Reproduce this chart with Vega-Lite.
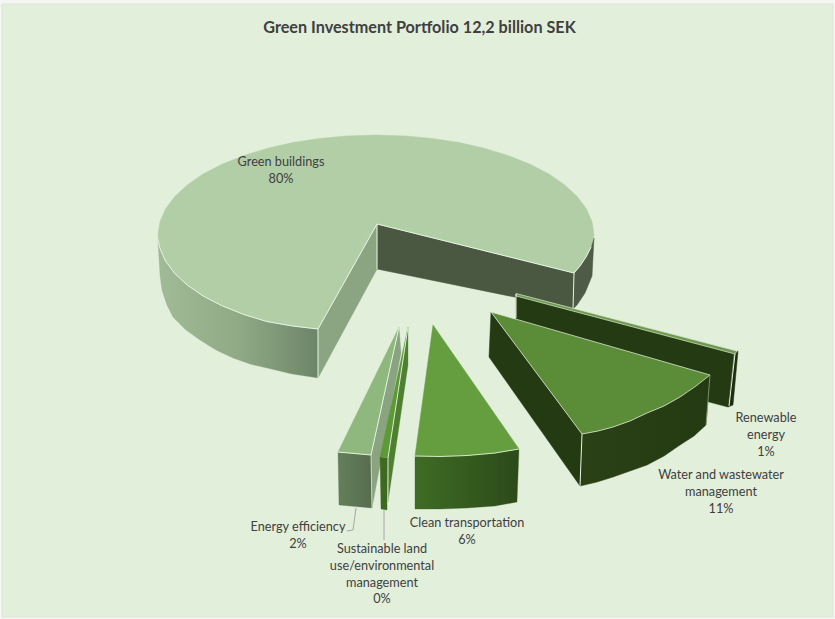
{
"$schema":"https://vega.github.io/schema/vega-lite/v6.json",
"width":835,"height":619,
"autosize":{"type":"fit","contains":"padding"},
"padding":0,
"background":"#f4f6f2",
"config":{"view":{"stroke":null}},
"encoding":{
"x":{"field":"x","type":"quantitative","scale":{"domain":[0,835],"nice":false,"zero":false},"axis":null},
"y":{"field":"y","type":"quantitative","scale":{"domain":[619,0],"nice":false,"zero":false},"axis":null},
"order":{"value":null}
},
"layer":[
{"data":{"values":[{"x":2,"y":4,"x1":833,"y1":617}]},"mark":{"type":"rect","fill":"#E2EFDB","stroke":"#dfe3dc","strokeWidth":1},"encoding":{"x2":{"field":"x1"},"y2":{"field":"y1"},"order":null}},
{"data":{"values":[{"x":377,"y":224},{"x":574,"y":273},{"x":573,"y":309},{"x":377,"y":269}]},"mark":{"type":"line","interpolate":"linear-closed","fill":"#4A5842","stroke":"#4A5842","strokeWidth":0.5}},
{"data":{"values":[{"x":574,"y":273},{"x":580,"y":266},{"x":586.6,"y":256},{"x":594,"y":238},{"x":592,"y":276},{"x":585,"y":293},{"x":577,"y":305},{"x":573,"y":309}]},"mark":{"type":"line","interpolate":"linear-closed","fill":"#4E5B47","stroke":"#4E5B47","strokeWidth":0.5}},
{"data":{"values":[{"x":377,"y":224},{"x":318,"y":329},{"x":318,"y":378},{"x":377,"y":269}]},"mark":{"type":"line","interpolate":"linear-closed","fill":"#8BA582","stroke":"#8BA582","strokeWidth":0.5}},
{"data":{"values":[{"x":158,"y":240},{"x":159.9,"y":248},{"x":165.4,"y":260.9},{"x":174.6,"y":273.3},{"x":187.2,"y":285},{"x":203,"y":295.9},{"x":221.9,"y":305.7},{"x":243.3,"y":314.3},{"x":267,"y":321.6},{"x":292.6,"y":326},{"x":318,"y":329},{"x":318,"y":378},{"x":292,"y":374},{"x":267,"y":368},{"x":250,"y":364},{"x":233,"y":358},{"x":216,"y":350},{"x":200,"y":340},{"x":186,"y":330},{"x":173,"y":317},{"x":167,"y":305},{"x":162,"y":290},{"x":160,"y":275}]},"mark":{"type":"line","interpolate":"linear-closed","stroke":"#8BA582","strokeWidth":0.3,"fill":{"gradient":"linear","x1":0,"y1":0,"x2":1,"y2":0,"stops":[{"offset":0,"color":"#A2BB97"},{"offset":0.5,"color":"#90AA86"},{"offset":1,"color":"#6D8567"}]}}},
{"data":{"values":[{"x":377,"y":224},{"x":574,"y":273},{"x":580,"y":266},{"x":586.6,"y":256},{"x":591,"y":247},{"x":594,"y":235},{"x":592.1,"y":222},{"x":586.6,"y":209.1},{"x":577.4,"y":196.7},{"x":564.8,"y":185},{"x":549,"y":174.1},{"x":530.1,"y":164.3},{"x":508.7,"y":155.7},{"x":485,"y":148.4},{"x":459.4,"y":142.6},{"x":432.4,"y":138.4},{"x":404.5,"y":135.9},{"x":376,"y":135},{"x":347.5,"y":135.9},{"x":319.6,"y":138.4},{"x":292.6,"y":142.6},{"x":267,"y":148.4},{"x":243.3,"y":155.7},{"x":221.9,"y":164.3},{"x":203,"y":174.1},{"x":187.2,"y":185},{"x":174.6,"y":196.7},{"x":165.4,"y":209.1},{"x":159.9,"y":222},{"x":158,"y":235},{"x":159.9,"y":248},{"x":165.4,"y":260.9},{"x":174.6,"y":273.3},{"x":187.2,"y":285},{"x":203,"y":295.9},{"x":221.9,"y":305.7},{"x":243.3,"y":314.3},{"x":267,"y":321.6},{"x":292.6,"y":326},{"x":318,"y":329}]},"mark":{"type":"line","interpolate":"linear-closed","fill":"#B1CEA7","stroke":"#B1CEA7","strokeWidth":0.5}},
{"data":{"values":[{"x":158,"y":240},{"x":159.9,"y":248},{"x":165.4,"y":260.9},{"x":174.6,"y":273.3},{"x":187.2,"y":285},{"x":203,"y":295.9},{"x":221.9,"y":305.7},{"x":243.3,"y":314.3},{"x":267,"y":321.6},{"x":292.6,"y":326},{"x":318,"y":329},{"x":377,"y":224},{"x":574,"y":273},{"x":580,"y":266},{"x":586.6,"y":256},{"x":591,"y":247}]},"mark":{"type":"line","stroke":"#E8F2E2","strokeWidth":1}},
{"data":{"values":[{"x":318,"y":329},{"x":318,"y":378}]},"mark":{"type":"line","stroke":"#E8F2E2","strokeWidth":1}},
{"data":{"values":[{"x":377,"y":224},{"x":377,"y":269}]},"mark":{"type":"line","stroke":"#E8F2E2","strokeWidth":1}},
{"data":{"values":[{"x":574,"y":273},{"x":573,"y":309}]},"mark":{"type":"line","stroke":"#E8F2E2","strokeWidth":1}},

{"data":{"values":[{"x":516,"y":295},{"x":734,"y":353},{"x":728,"y":407},{"x":516,"y":351}]},"mark":{"type":"line","interpolate":"linear-closed","fill":"#233A12","stroke":"#233A12","strokeWidth":0.5}},
{"data":{"values":[{"x":735,"y":353},{"x":738,"y":351},{"x":733,"y":405},{"x":728,"y":407}]},"mark":{"type":"line","interpolate":"linear-closed","fill":"#1C2E0E","stroke":"#1C2E0E","strokeWidth":0.5}},
{"data":{"values":[{"x":516,"y":293.5},{"x":737,"y":351},{"x":735,"y":354},{"x":516,"y":296}]},"mark":{"type":"line","interpolate":"linear-closed","fill":"#6E9A50","stroke":"#DCE8D2","strokeWidth":0.7}},
{"data":{"values":[{"x":516,"y":294},{"x":516,"y":318}]},"mark":{"type":"line","stroke":"#E8F2E2","strokeWidth":1}},
{"data":{"values":[{"x":735,"y":354},{"x":729,"y":406}]},"mark":{"type":"line","stroke":"#E8F2E2","strokeWidth":1}},

{"data":{"values":[{"x":491,"y":312},{"x":582,"y":434},{"x":580,"y":486},{"x":489,"y":357}]},"mark":{"type":"line","interpolate":"linear-closed","fill":"#243A12","stroke":"#243A12","strokeWidth":0.5}},
{"data":{"values":[{"x":582,"y":434},{"x":598,"y":431},{"x":613,"y":427},{"x":630,"y":421},{"x":647,"y":413},{"x":664,"y":406},{"x":680,"y":397},{"x":696,"y":386},{"x":710,"y":375},{"x":706,"y":425},{"x":694,"y":436},{"x":680,"y":445},{"x":664,"y":456},{"x":647,"y":465},{"x":630,"y":471},{"x":613,"y":477},{"x":597,"y":482},{"x":580,"y":486}]},"mark":{"type":"line","interpolate":"linear-closed","stroke":"#273D14","strokeWidth":0.5,"fill":{"gradient":"linear","x1":0,"y1":0,"x2":1,"y2":0,"stops":[{"offset":0,"color":"#2A4116"},{"offset":1,"color":"#243A12"}]}}},
{"data":{"values":[{"x":491,"y":312},{"x":710,"y":375},{"x":696,"y":386},{"x":680,"y":397},{"x":664,"y":406},{"x":647,"y":413},{"x":630,"y":421},{"x":613,"y":427},{"x":598,"y":431},{"x":582,"y":434}]},"mark":{"type":"line","interpolate":"linear-closed","fill":"#5B8C38","stroke":"#DCE8D2","strokeWidth":0.8}},
{"data":{"values":[{"x":582,"y":434},{"x":580,"y":486}]},"mark":{"type":"line","stroke":"#E8F2E2","strokeWidth":1}},
{"data":{"values":[{"x":710,"y":375},{"x":706,"y":425}]},"mark":{"type":"line","stroke":"#8CA580","strokeWidth":0.8}},

{"data":{"values":[{"x":415,"y":456},{"x":467,"y":455},{"x":495,"y":453},{"x":519,"y":449},{"x":517,"y":502},{"x":495,"y":506},{"x":467,"y":508},{"x":440,"y":509},{"x":415,"y":509}]},"mark":{"type":"line","interpolate":"linear-closed","stroke":"#375C1F","strokeWidth":0.3,"fill":{"gradient":"linear","x1":0,"y1":0,"x2":1,"y2":0,"stops":[{"offset":0,"color":"#3F6C24"},{"offset":1,"color":"#2C4A1A"}]}}},
{"data":{"values":[{"x":433,"y":325},{"x":519,"y":449},{"x":495,"y":453},{"x":467,"y":455.5},{"x":440,"y":456.5},{"x":415,"y":456}]},"mark":{"type":"line","interpolate":"linear-closed","fill":"#659E3F","stroke":"#659E3F","strokeWidth":0.5}},
{"data":{"values":[{"x":415,"y":456},{"x":440,"y":456.5},{"x":467,"y":455.5},{"x":495,"y":453},{"x":519,"y":449}]},"mark":{"type":"line","stroke":"#D5E6C8","strokeWidth":1}},

{"data":{"values":[{"x":338,"y":452},{"x":371,"y":455},{"x":372,"y":508},{"x":339,"y":505}]},"mark":{"type":"line","interpolate":"linear-closed","stroke":"#5B7451","strokeWidth":0.3,"fill":{"gradient":"linear","x1":0,"y1":0,"x2":1,"y2":0,"stops":[{"offset":0,"color":"#647F5A"},{"offset":1,"color":"#566D4D"}]}}},
{"data":{"values":[{"x":399,"y":327},{"x":401,"y":353},{"x":372,"y":508},{"x":371,"y":455}]},"mark":{"type":"line","interpolate":"linear-closed","fill":"#8AA381","stroke":"#8AA381","strokeWidth":0.3}},
{"data":{"values":[{"x":399,"y":327},{"x":371,"y":455},{"x":338,"y":452}]},"mark":{"type":"line","interpolate":"linear-closed","fill":"#8EB87E","stroke":"#8EB87E","strokeWidth":0.3}},
{"data":{"values":[{"x":338,"y":452},{"x":371,"y":455},{"x":399,"y":327}]},"mark":{"type":"line","stroke":"#E8F2E2","strokeWidth":1}},
{"data":{"values":[{"x":371,"y":455},{"x":372,"y":508}]},"mark":{"type":"line","stroke":"#D5E6C8","strokeWidth":0.8}},

{"data":{"values":[{"x":408,"y":327},{"x":408,"y":365},{"x":388,"y":502},{"x":388,"y":458}]},"mark":{"type":"line","interpolate":"linear-closed","fill":"#4F8030","stroke":"#4F8030","strokeWidth":0.3}},
{"data":{"values":[{"x":380,"y":457},{"x":388,"y":458},{"x":387,"y":510},{"x":381,"y":509}]},"mark":{"type":"line","interpolate":"linear-closed","fill":"#3D6A20","stroke":"#3D6A20","strokeWidth":0.3}},
{"data":{"values":[{"x":408,"y":327},{"x":388,"y":458},{"x":380,"y":457}]},"mark":{"type":"line","interpolate":"linear-closed","fill":"#5B9A35","stroke":"#5B9A35","strokeWidth":0.3}},
{"data":{"values":[{"x":408,"y":327},{"x":388,"y":458},{"x":388,"y":505}]},"mark":{"type":"line","stroke":"#E8F2E2","strokeWidth":0.9}},

{"data":{"values":[{"x":356,"y":508},{"x":353,"y":530},{"x":347,"y":531}]},"mark":{"type":"line","stroke":"#A6A6A6","strokeWidth":1}},
{"data":{"values":[{"x":384,"y":510},{"x":384,"y":540}]},"mark":{"type":"line","stroke":"#A6A6A6","strokeWidth":1}},

{"data":{"values":[
{"x":281,"y":156,"label":"Green buildings\n80%"},
{"x":766,"y":412,"label":"Renewable\nenergy\n1%"},
{"x":721,"y":469,"label":"Water and wastewater\nmanagement\n11%"},
{"x":467,"y":517,"label":"Clean transportation\n6%"},
{"x":298,"y":521,"label":"Energy efficiency\n2%"},
{"x":382,"y":543,"label":"Sustainable land\nuse/environmental\nmanagement\n0%"}
]},"mark":{"type":"text","font":"Lato","fontSize":12.7,"color":"#404040","align":"center","baseline":"top","lineBreak":"\n","lineHeight":16.8},"encoding":{"text":{"field":"label"},"order":null}},
{"data":{"values":[{"x":419.5,"y":27.5,"label":"Green Investment Portfolio 12,2 billion SEK"}]},"mark":{"type":"text","font":"Lato","fontSize":16.2,"fontWeight":"bold","color":"#404040","align":"center","baseline":"middle"},"encoding":{"text":{"field":"label"},"order":null}}
]
}
